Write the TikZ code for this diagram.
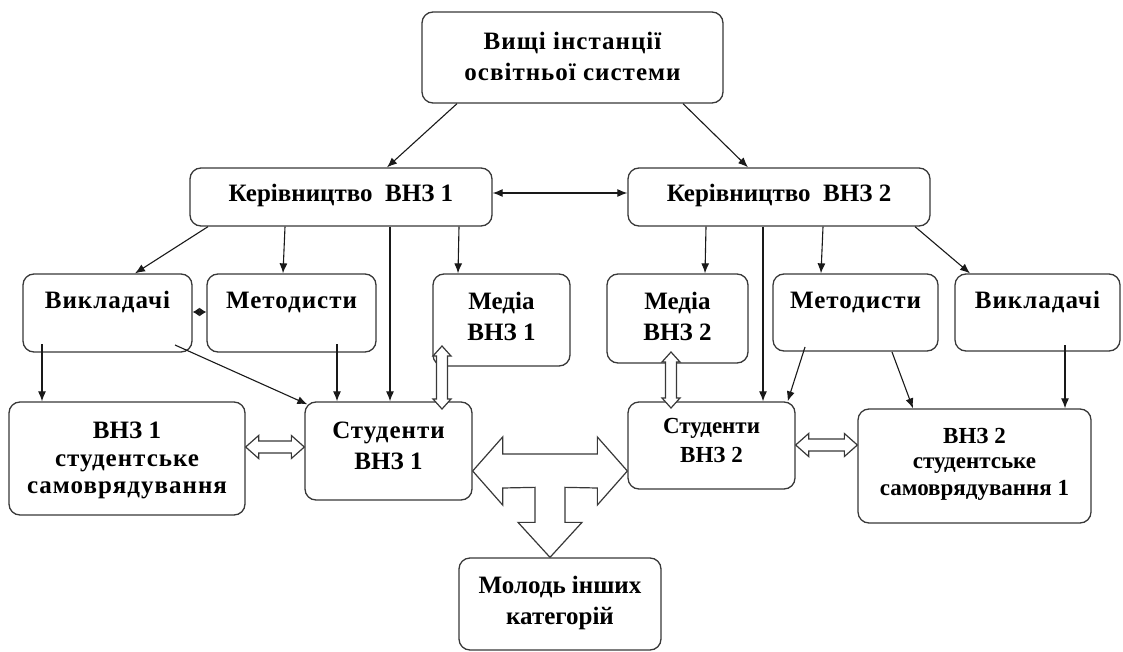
\documentclass[tikz,border=0pt]{standalone}
\usepackage{fontspec}
\setmainfont{Liberation Serif}
\usetikzlibrary{arrows.meta,calc}
\tikzset{
  box/.style={draw=black!78, line width=1.3pt, rounded corners=11pt, inner sep=0pt},
  lbl/.style={font=\bfseries\fontsize{25}{30}\selectfont, inner sep=0pt, anchor=base},
  lbsp/.style={font=\bfseries\fontsize{25}{30}\selectfont\addfontfeature{LetterSpace=4}, inner sep=0pt, anchor=base},
  lbls/.style={font=\bfseries\fontsize{23}{28}\selectfont, inner sep=0pt, anchor=base},
  conn/.style={draw=black!90, line width=1.1pt, -{Latex[length=10pt,width=8pt]}},
  connboth/.style={draw=black!90, line width=1.1pt, {Latex[length=10pt,width=8pt]}-{Latex[length=10pt,width=8pt]}},
  connsmall/.style={draw=black!90, line width=1.1pt, {Latex[length=7pt,width=9pt]}-{Latex[length=7pt,width=9pt]}},
  hollow/.style={draw=black!78, line width=1.2pt, fill=white, line join=miter},
}
\newcommand\mybox[5]{\node[box, minimum width={(#4)-(#2)}, minimum height={(#5)-(#3)}] (#1) at ({((#2)+(#4))/2},{((#3)+(#5))/2}) {};}
\newcommand\tl[5][lbl]{\node[#1] (#2) at (#3,#4) {#5};}
% vertical hollow double arrow: top tip #1, bottom tip #2
\newcommand\hollowV[2]{\draw[hollow] (#1) -- ++(9,10) -- ++(-3.5,0) -- ($(#2)+(5.5,-10)$) -- ++(3.5,0) -- (#2) -- ++(-9,-10) -- ++(3.5,0) -- ($(#1)+(-5.5,10)$) -- ++(-3.5,0) -- cycle;}
% horizontal hollow double arrow: left tip #1, right tip #2
\newcommand\hollowH[2]{\draw[hollow] (#1) -- ++(13,-11.5) -- ++(0,5.5) -- ($(#2)+(-13,-6)$) -- ++(0,-5.5) -- (#2) -- ++(-13,11.5) -- ++(0,-5.5) -- ($(#1)+(13,6)$) -- ++(0,5.5) -- cycle;}
\begin{document}
\begin{tikzpicture}[x=1pt,y=-1pt]
\useasboundingbox (0,0) rectangle (1123,652);
% boxes
\mybox{top}{422}{12}{723}{103}
\mybox{ker1}{190}{168}{492}{226}
\mybox{ker2}{628}{168}{930}{226}
\mybox{vyk1}{23}{274}{192}{352}
\mybox{met1}{207}{274}{376}{352}
\mybox{med1}{433}{274}{570}{366}
\mybox{med2}{607}{274}{748}{363}
\mybox{met2}{773}{274}{938}{351}
\mybox{vyk2}{955}{274}{1120}{351}
\mybox{sam1}{9}{402}{245}{515}
\mybox{stu1}{305}{402}{472}{500}
\mybox{stu2}{628}{402}{795}{489}
\mybox{sam2}{858}{409}{1091}{523}
\mybox{mol}{459}{558}{661}{650}
% texts
\tl[lbsp]{ttopa}{572.5}{50}{Вищі інстанції}
\tl[lbsp]{ttopb}{572.5}{81}{освітньої системи}
\tl{tker1}{341}{202}{Керівництво\ \ ВНЗ 1}
\tl{tker2}{779}{202}{Керівництво\ \ ВНЗ 2}
\tl[lbsp]{tvyk1}{107.5}{308}{Викладачі}
\tl[lbsp]{tmet1}{291.5}{308}{Методисти}
\tl{tmed1a}{501.5}{309}{Медіа}
\tl{tmed1b}{501.5}{340}{ВНЗ 1}
\tl{tmed2a}{677.5}{309}{Медіа}
\tl{tmed2b}{677.5}{340}{ВНЗ 2}
\tl[lbsp]{tmet2}{855.5}{308}{Методисти}
\tl[lbsp]{tvyk2}{1037.5}{308}{Викладачі}
\tl[lbsp]{tstu1a}{388.5}{438}{Студенти}
\tl{tstu1b}{388.5}{469}{ВНЗ 1}
\tl{tsam1a}{127}{438}{ВНЗ 1}
\tl[lbsp]{tsam1b}{127}{466}{студентське}
\tl[lbsp]{tsam1c}{127}{493}{самоврядування}
\tl[lbls]{tstu2a}{711.5}{433}{Студенти}
\tl[lbls]{tstu2b}{711.5}{462}{ВНЗ 2}
\tl[lbls]{tsam2a}{974.5}{443}{ВНЗ 2}
\tl[lbls]{tsam2b}{974.5}{468}{студентське}
\tl[lbls]{tsam2c}{974.5}{495}{самоврядування 1}
\tl{tmola}{560}{593}{Молодь інших}
\tl{tmolb}{560}{624}{категорій}
% connectors from the top box
\draw[conn] (top.south -| 457,0) -- (ker1.north -| 387,0);
\draw[conn] (top.south -| 683,0) -- (ker2.north -| 748,0);
\draw[connboth] ([yshift=4pt]ker1.east) -- ([yshift=4pt]ker2.west);
% management 1
\draw[conn] (ker1.south -| 208,0) -- (vyk1.north -| 135,0);
\draw[conn] (ker1.south -| 285,0) -- (met1.north -| 283,0);
\draw[conn] (ker1.south -| 390,0) -- (stu1.north -| 390,0);
\draw[conn] (ker1.south -| 459,0) -- (med1.north -| 458,0);
% management 2
\draw[conn] (ker2.south -| 706,0) -- (med2.north -| 705,0);
\draw[conn] (ker2.south -| 763,0) -- (stu2.north -| 763,0);
\draw[conn] (ker2.south -| 823,0) -- (met2.north -| 821,0);
\draw[conn] (ker2.south -| 915,0) -- (vyk2.north -| 970,0);
% teachers / methodists
\draw[connsmall] (vyk1.east |- 0,312) -- (met1.west |- 0,312);
\coordinate (v1a) at (42,344);
\coordinate (v1b) at (175,345);
\coordinate (m1a) at (337,344);
\coordinate (m2a) at (805,347);
\coordinate (m2b) at (892,352);
\coordinate (v2a) at (1065,345);
\draw[conn] (v1a) -- (sam1.north -| 42,0);
\draw[conn] (v1b) -- ([shift={(3pt,-3pt)}]stu1.north west);
\draw[conn] (m1a) -- (stu1.north -| 337,0);
\draw[conn] (m2a) -- ([xshift=-8pt]stu2.north east);
\draw[conn] (m2b) -- (sam2.north -| 913,0);
\draw[conn] (v2a) -- (sam2.north -| 1065,0);
% hollow arrows
\coordinate (h1a) at (442,346);
\coordinate (h1b) at (442,409);
\coordinate (h2a) at (671,352);
\coordinate (h2b) at (671,408);
\hollowV{h1a}{h1b}
\hollowV{h2a}{h2b}
\coordinate (h3a) at (sam1.east |- 0,447);
\coordinate (h3b) at (stu1.west |- 0,447);
\coordinate (h4a) at (stu2.east |- 0,445);
\coordinate (h4b) at (sam2.west |- 0,445);
\hollowH{h3a}{h3b}
\hollowH{h4a}{h4b}
% three-way arrow
\coordinate (L) at (stu1.east |- 0,471);
\coordinate (R) at (stu2.west |- 0,471);
\coordinate (D) at (mol.north -| 550,0);
\draw[hollow] (L) -- ($(L)+(30,-34)$) -- ($(L)+(30,-17)$) -- ($(R)+(-30,-17)$) -- ($(R)+(-30,-34)$) -- (R)
  -- ($(R)+(-30,34)$) -- ($(R)+(-30,17)$) -- ($(D)+(15,-70)$) -- ($(D)+(15,-35)$) -- ($(D)+(32,-35)$) -- (D)
  -- ($(D)+(-32,-35)$) -- ($(D)+(-15,-35)$) -- ($(D)+(-15,-70)$) -- ($(L)+(30,17)$) -- ($(L)+(30,34)$) -- cycle;
\end{tikzpicture}
\end{document}
